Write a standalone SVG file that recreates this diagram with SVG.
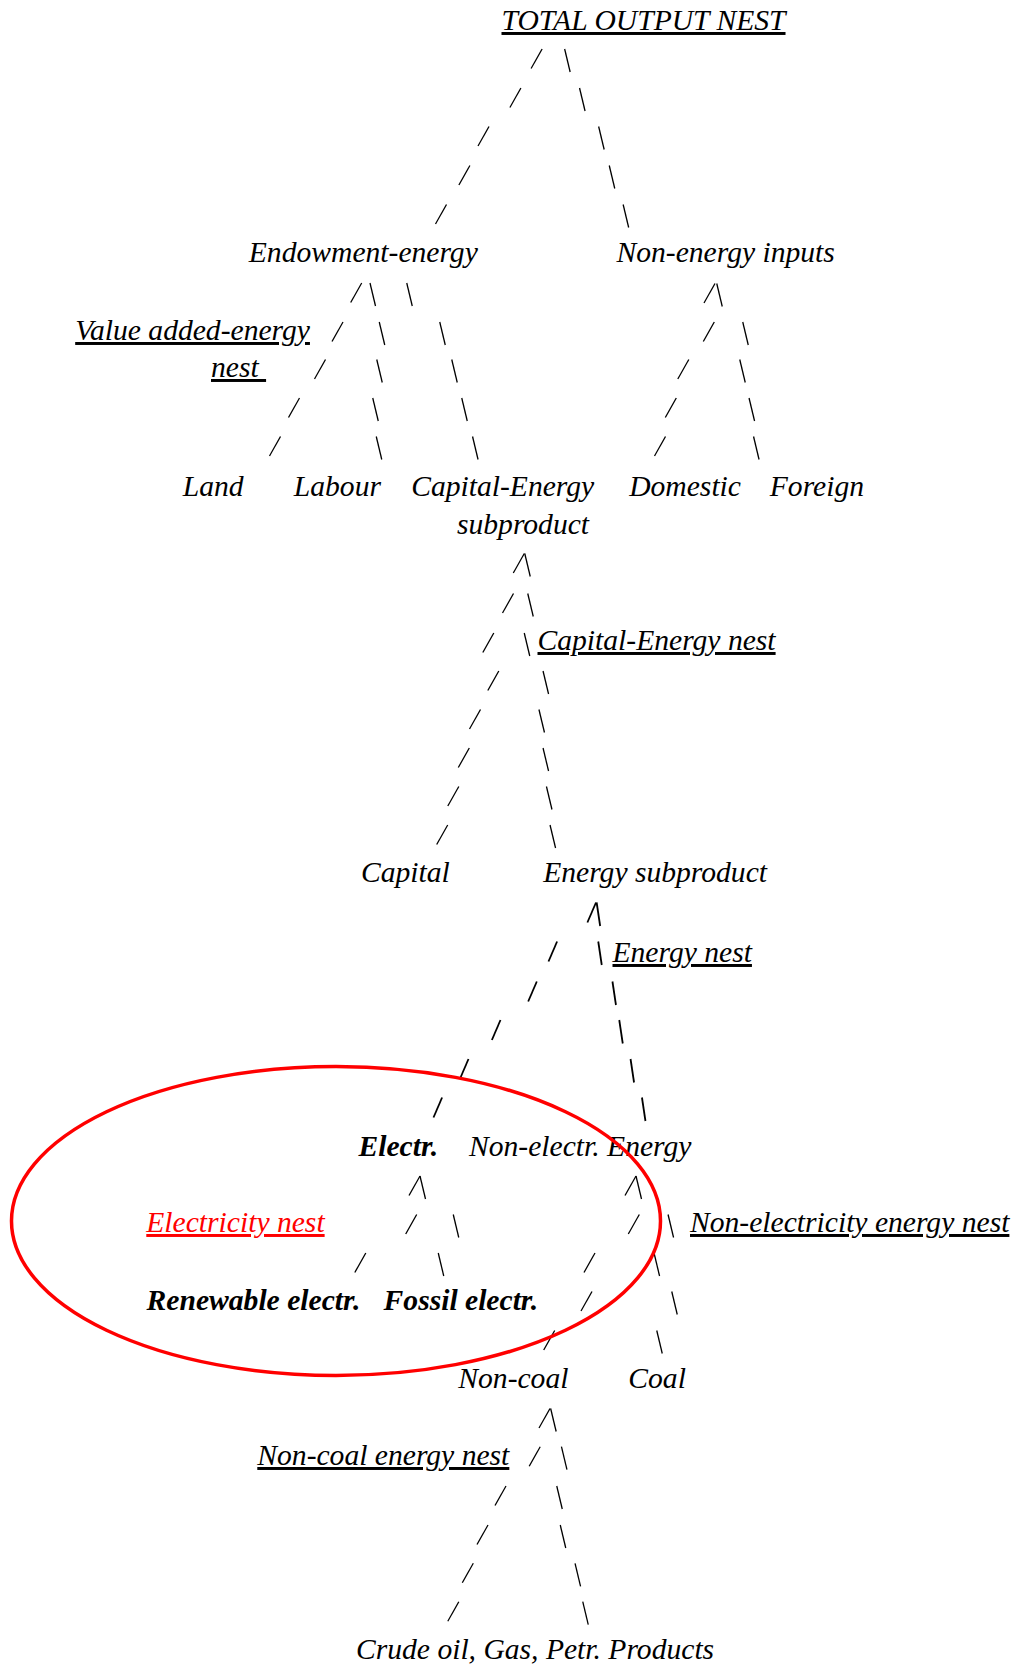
<svg xmlns="http://www.w3.org/2000/svg" xmlns:xlink="http://www.w3.org/1999/xlink" width="1019" height="1666" viewBox="0 0 1019 1666">
<style>
.t{font-family:"Liberation Serif","Times New Roman",serif;font-style:italic;font-size:29.6px;fill:#000}
.b{font-weight:bold}
.u{text-decoration:underline}
.red{fill:#ff0000}
.c{stroke:#000;stroke-width:1.3;fill:none;stroke-linecap:butt}
.c2{stroke:#000;stroke-width:1.8;fill:none}
</style>
<defs>
<path id="fs" d="M5.5,-11.5 L-5.5,8"/>
<path id="bs" d="M-2.75,-11.5 L2.75,11.5"/>
<path id="fs2" d="M4.3,-11.5 L-4.3,8.5"/>
<path id="bs2" d="M-1.75,-11.5 L1.75,12"/>
</defs>
<rect width="1019" height="1666" fill="#fff"/>

<g id="connectors">
<g class="c">
<!-- total output -->
<use href="#fs" x="536.6" y="60.5"/><use href="#fs" x="515.4" y="99.5"/><use href="#fs" x="483.5" y="138"/><use href="#fs" x="464.4" y="177"/><use href="#fs" x="441" y="216"/>
<use href="#bs" x="567.4" y="60.5"/><use href="#bs" x="582.3" y="99.5"/><use href="#bs" x="601.4" y="138"/><use href="#bs" x="612" y="177"/><use href="#bs" x="625.9" y="216"/>
<!-- endowment-energy -->
<use href="#fs" x="356.2" y="294.5"/><use href="#fs" x="337.5" y="333.5"/><use href="#fs" x="320" y="371"/><use href="#fs" x="294" y="409.5"/><use href="#fs" x="275" y="448"/>
<use href="#bs" x="372.75" y="294.5"/><use href="#bs" x="382" y="333.5"/><use href="#bs" x="379.5" y="371"/><use href="#bs" x="375.5" y="409.5"/><use href="#bs" x="379" y="448"/>
<use href="#bs" x="409.5" y="294.5"/><use href="#bs" x="442.5" y="333.5"/><use href="#bs" x="454.5" y="371"/><use href="#bs" x="464.5" y="409.5"/><use href="#bs" x="475.3" y="448"/>
<!-- non-energy inputs -->
<use href="#fs" x="709.5" y="295"/><use href="#fs" x="708.8" y="333.5"/><use href="#fs" x="683.3" y="371"/><use href="#fs" x="670.8" y="409.5"/><use href="#fs" x="660" y="448"/>
<use href="#bs" x="719.5" y="295"/><use href="#bs" x="745.5" y="333.5"/><use href="#bs" x="742.5" y="371"/><use href="#bs" x="751.8" y="409.5"/><use href="#bs" x="756.3" y="448"/>
<!-- capital-energy -->
<use href="#fs" x="518.8" y="565"/><use href="#fs" x="508" y="605"/><use href="#fs" x="488.3" y="644.5"/><use href="#fs" x="493.3" y="682.5"/><use href="#fs" x="475" y="721"/><use href="#fs" x="463.8" y="759.5"/><use href="#fs" x="453.3" y="798"/><use href="#fs" x="442.2" y="836.5"/>
<use href="#bs" x="527.5" y="565"/><use href="#bs" x="530.5" y="605"/><use href="#bs" x="527" y="644.5"/><use href="#bs" x="545.8" y="682.5"/><use href="#bs" x="541.7" y="721"/><use href="#bs" x="545.8" y="759.5"/><use href="#bs" x="549.2" y="798"/><use href="#bs" x="552.8" y="836.5"/>
<!-- electricity -->
<use href="#fs" x="414.5" y="1187.5"/><use href="#fs" x="411.2" y="1226"/><use href="#fs" x="360.3" y="1264.5"/>
<use href="#bs" x="422.75" y="1187.5"/><use href="#bs" x="456" y="1226"/><use href="#bs" x="441" y="1264.5"/>
<!-- non-electricity -->
<use href="#fs" x="630.5" y="1187.5"/><use href="#fs" x="633.8" y="1226"/><use href="#fs" x="589.5" y="1264.5"/><use href="#fs" x="586.5" y="1303"/><use href="#fs" x="549.2" y="1342"/>
<use href="#bs" x="638.75" y="1187.5"/><use href="#bs" x="670.8" y="1226"/><use href="#bs" x="656.8" y="1264.5"/><use href="#bs" x="674.5" y="1303"/><use href="#bs" x="659.5" y="1342"/>
<!-- non-coal -->
<use href="#fs" x="544.5" y="1420"/><use href="#fs" x="534.7" y="1458.2"/><use href="#fs" x="500.5" y="1497.5"/><use href="#fs" x="482.5" y="1536.5"/><use href="#fs" x="467.8" y="1574.8"/><use href="#fs" x="453.3" y="1613.2"/>
<use href="#bs" x="553.4" y="1420"/><use href="#bs" x="564.2" y="1458.2"/><use href="#bs" x="559.5" y="1497.5"/><use href="#bs" x="563" y="1536.5"/><use href="#bs" x="577.8" y="1574.8"/><use href="#bs" x="585.5" y="1613.2"/>
</g>
<g class="c2">
<!-- energy subproduct -->
<use href="#fs2" x="591.7" y="914"/><use href="#fs2" x="552.8" y="953"/><use href="#fs2" x="532.5" y="993"/><use href="#fs2" x="496.2" y="1031.5"/><use href="#fs2" x="464.2" y="1070.5"/><use href="#fs2" x="437.8" y="1109"/>
<use href="#bs2" x="598.4" y="914"/><use href="#bs2" x="600" y="953"/><use href="#bs2" x="614.2" y="993"/><use href="#bs2" x="621" y="1031.5"/><use href="#bs2" x="632.3" y="1070.5"/><use href="#bs2" x="643.7" y="1109"/>
</g>
</g>

<g id="total-output-nest"><text class="t u" x="501.5" y="30">TOTAL OUTPUT NEST</text></g>
<g id="endowment-energy"><text class="t" x="248.8" y="262">Endowment-energy</text></g>
<g id="non-energy-inputs"><text class="t" x="616.5" y="262">Non-energy inputs</text></g>
<g id="value-added-energy-nest"><text class="t u" x="75.2" y="340">Value added-energy</text><text class="t u" x="211" y="377" xml:space="preserve">nest </text></g>
<g id="land"><text class="t" x="182.7" y="496">Land</text></g>
<g id="labour"><text class="t" x="293.8" y="496">Labour</text></g>
<g id="capital-energy-subproduct"><text class="t" x="411.2" y="496">Capital-Energy</text><text class="t" x="457" y="533.5">subproduct</text></g>
<g id="domestic"><text class="t" x="629.2" y="496">Domestic</text></g>
<g id="foreign"><text class="t" x="769.8" y="496">Foreign</text></g>
<g id="capital-energy-nest"><text class="t u" x="537.5" y="650">Capital-Energy nest</text></g>
<g id="capital"><text class="t" x="361" y="882">Capital</text></g>
<g id="energy-subproduct"><text class="t" x="543.2" y="882">Energy subproduct</text></g>
<g id="energy-nest"><text class="t u" x="612.5" y="962">Energy nest</text></g>
<g id="electr"><text class="t b" x="358.5" y="1156">Electr.</text></g>
<g id="non-electr-energy"><text class="t" x="469" y="1156">Non-electr. Energy</text></g>
<g id="electricity-nest"><text class="t u red" x="146.3" y="1232">Electricity nest</text></g>
<g id="non-electricity-energy-nest"><text class="t u" x="690" y="1232">Non-electricity energy nest</text></g>
<g id="renewable-electr"><text class="t b" x="146.6" y="1310">Renewable electr.</text></g>
<g id="fossil-electr"><text class="t b" x="383.6" y="1310">Fossil electr.</text></g>
<g id="non-coal"><text class="t" x="458.3" y="1388">Non-coal</text></g>
<g id="coal"><text class="t" x="628.3" y="1388">Coal</text></g>
<g id="non-coal-energy-nest"><text class="t u" x="257.3" y="1465">Non-coal energy nest</text></g>
<g id="crude-oil-gas-petr-products"><text class="t" x="356" y="1658.5">Crude oil, Gas, Petr. Products</text></g>

<g id="electricity-highlight"><ellipse cx="336" cy="1221" rx="324.5" ry="154.5" fill="none" stroke="#ff0000" stroke-width="3.5"/></g>
</svg>
